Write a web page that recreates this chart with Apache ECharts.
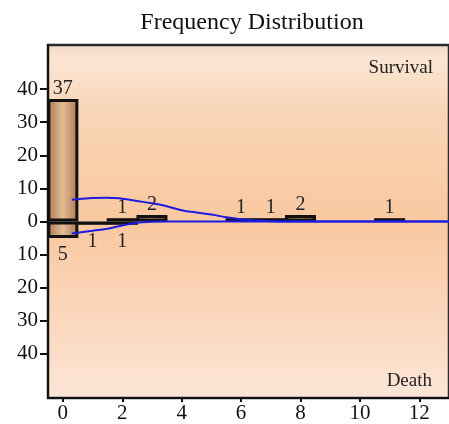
<!DOCTYPE html>
<html>
<head>
<meta charset="utf-8">
<script src="https://cdn.jsdelivr.net/npm/echarts@6/dist/echarts.min.js"></script>
<style>
html,body{margin:0;padding:0;background:#fff;}
#chart{width:449px;height:424px;}
</style>
</head>
<body>
<div id="chart"></div>
<script>
// Data
const survivalX = [0, 2, 3, 6, 7, 8, 11];
const survivalCounts = [37, 1, 2, 1, 1, 2, 1];
const deathX = [0, 1, 2];
const deathCounts = [5, 1, 1];
const survivalCurveX = [0.3, 1, 1.5, 2, 2.5, 3, 3.5, 4, 4.5, 5, 5.5, 6, 6.5, 7, 7.5, 9, 11, 13];
const survivalCurveY = [6.6, 7.1, 7.2, 6.9, 6.2, 5.5, 4.6, 3.4, 2.7, 2.1, 1.3, 0.7, 0.3, 0.1, 0, 0, 0, 0];
const deathCurveX = [0.3, 1, 1.5, 2, 2.5, 3, 3.5, 5, 9, 13];
const deathCurveY = [-3.6, -2.8, -2.2, -1.2, -0.4, -0.1, 0, 0, 0, 0];
const xTicks = [0, 2, 4, 6, 8, 10, 12];
const yTicks = [-40, -30, -20, -10, 0, 10, 20, 30, 40];

const serif = '"Liberation Serif", "DejaVu Serif", serif';
const chart = echarts.init(document.getElementById('chart'));

const barFill = new echarts.graphic.LinearGradient(0, 0, 1, 0, [
  {offset: 0, color: '#ad784c'},
  {offset: 0.5, color: '#e2bc98'},
  {offset: 1, color: '#ad784c'}
]);

const option = {
  animation: false,
  backgroundColor: '#ffffff',
  title: {
    text: 'Frequency Distribution',
    left: 247, top: 6, textAlign: 'center',
    textStyle: {fontFamily: serif, fontSize: 24, fontWeight: 'normal', color: '#111'}
  },
  grid: {
    left: 48, top: 45, width: 419, height: 355,
    show: true, borderColor: '#2a2a2a', borderWidth: 2.5,
    backgroundColor: new echarts.graphic.LinearGradient(0, 0, 0, 1, [
      {offset: 0, color: '#f1d8c6'},
      {offset: 0.04, color: '#fbe5d3'},
      {offset: 0.2, color: '#f9d5b6'},
      {offset: 0.5, color: '#f9c8a0'},
      {offset: 0.85, color: '#fbdcc5'},
      {offset: 1, color: '#fce6d8'}
    ])
  },
  xAxis: {
    type: 'value', min: -0.5, max: 13,
    axisLine: {show: true, onZero: false, lineStyle: {color: '#111', width: 2}},
    axisTick: {show: true, customValues: xTicks, length: 4, lineStyle: {color: '#111', width: 2}},
    axisLabel: {customValues: xTicks, margin: 5, fontFamily: serif, fontSize: 21, color: '#111'},
    splitLine: {show: false}
  },
  yAxis: {
    type: 'value', min: -53.3, max: 53.3,
    axisLine: {show: true, onZero: false, lineStyle: {color: '#111', width: 2}},
    axisTick: {show: true, customValues: yTicks, length: 8, lineStyle: {color: '#111', width: 2}},
    axisLabel: {customValues: yTicks, margin: 10, fontFamily: serif, fontSize: 21, color: '#111',
      formatter: v => String(Math.abs(v))},
    splitLine: {show: false}
  },
  graphic: [
    {type: 'text', right: 16, top: 59, style: {text: 'Survival', font: '19px ' + serif, fill: '#222'}},
    {type: 'text', right: 17, top: 372, style: {text: 'Death', font: '19px ' + serif, fill: '#222'}}
  ],
  series: [
    {
      type: 'bar', name: 'Survival', barWidth: 31, barGap: '-100%',
      data: survivalX.map((x, i) => [x, survivalCounts[i]]),
      itemStyle: {color: barFill, borderColor: '#111', borderWidth: 3},
      label: {show: true, position: 'top', distance: 0, fontFamily: serif, fontSize: 20, color: '#222',
        formatter: p => String(p.value[1])},
      z: 2
    },
    {
      type: 'bar', name: 'Death', barWidth: 31, barGap: '-100%',
      data: deathX.map((x, i) => [x, -deathCounts[i]]),
      itemStyle: {color: barFill, borderColor: '#111', borderWidth: 3},
      label: {show: true, position: 'bottom', distance: 7, fontFamily: serif, fontSize: 20, color: '#222',
        formatter: p => String(Math.abs(p.value[1]))},
      z: 2
    },
    {
      type: 'line', smooth: true, showSymbol: false, z: 5,
      data: survivalCurveX.map((x, i) => [x, survivalCurveY[i]]),
      lineStyle: {color: '#1c1ce0', width: 2}
    },
    {
      type: 'line', smooth: true, showSymbol: false, z: 5,
      data: deathCurveX.map((x, i) => [x, deathCurveY[i]]),
      lineStyle: {color: '#1c1ce0', width: 2}
    }
  ]
};
chart.setOption(option);
</script>
</body>
</html>
